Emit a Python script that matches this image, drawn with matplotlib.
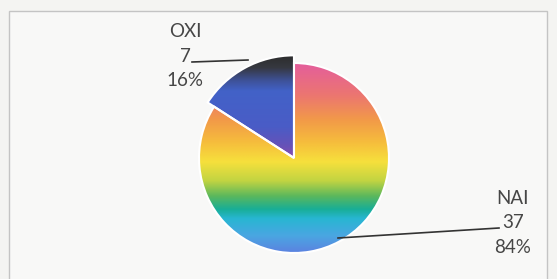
import matplotlib.pyplot as plt
import numpy as np
from matplotlib.colors import LinearSegmentedColormap
from matplotlib.patches import Rectangle

# данные
labels = ["NAI", "OXI"]
values = [37, 7]
percents = ["84%", "16%"]

# цвета градиента сверху вниз (позиция, цвет)
nai_colors = [(0.0, "#e45e9c"), (0.17, "#ec7670"), (0.30, "#f29a48"),
              (0.42, "#f6be3c"), (0.52, "#f6e03c"), (0.62, "#c2d442"),
              (0.70, "#5cb85c"), (0.77, "#18ae96"), (0.82, "#28b6d2"),
              (0.91, "#4aa6e2"), (1.0, "#5c82e0")]
oxi_colors = [(0.0, "#2c2c2c"), (0.12, "#363840"), (0.25, "#3e529a"),
              (0.35, "#4262c8"), (0.7, "#4a5cc6"), (0.88, "#6652b8"),
              (1.0, "#8a4eae")]

plt.rcParams['font.family'] = ['Lato', 'DejaVu Sans']

fig = plt.figure(figsize=(5.57, 2.79), dpi=100)
fig.patch.set_facecolor("#f4f4f2")
ax = fig.add_axes([0, 0, 1, 1])

# рамка
ax.add_patch(Rectangle((9, -5), 538, 273, facecolor="#f8f8f7",
                       edgecolor="#c4c4c4", linewidth=1))

cx, cy, r = 294, 121, 95
wedges, _ = ax.pie(values, center=(cx, cy), radius=r, startangle=90,
                   counterclock=False, explode=[0, 0.06],
                   wedgeprops=dict(edgecolor="white", linewidth=1.5),
                   frame=True)
wedges[1].set_radius(r * 1.08)
ax.set_xlim(0, 557)
ax.set_ylim(0, 279)
ax.axis("off")

# градиентная заливка
grad = np.linspace(0, 1, 256).reshape(-1, 1)
for w, cols in zip(wedges, [nai_colors, oxi_colors]):
    cmap = LinearSegmentedColormap.from_list("g", cols)
    ext = w.get_path().get_extents()
    im = ax.imshow(grad, cmap=cmap, aspect="auto", origin="upper",
                   extent=[ext.x0, ext.x1, ext.y0, ext.y1], zorder=1)
    im.set_clip_path(w)
    w.set_facecolor("none")
    w.set_zorder(2)

ax.set_xlim(0, 557)
ax.set_ylim(0, 279)

# подписи
tc = "#464646"
ax.text(513, 56, f"{labels[0]}\n{values[0]}\n{percents[0]}", ha="center",
        va="center", fontsize=13.5, color=tc, linespacing=1.55)
ax.plot([499, 338], [51, 41], color="#333333", linewidth=1.2, zorder=3)
ax.text(185, 223, f"{labels[1]}\n{values[1]}\n{percents[1]}", ha="center",
        va="center", fontsize=13.5, color=tc, linespacing=1.55)
ax.plot([192, 248], [217, 219], color="#333333", linewidth=1.2, zorder=3)

plt.savefig("out.png", dpi=100, facecolor=fig.get_facecolor())
